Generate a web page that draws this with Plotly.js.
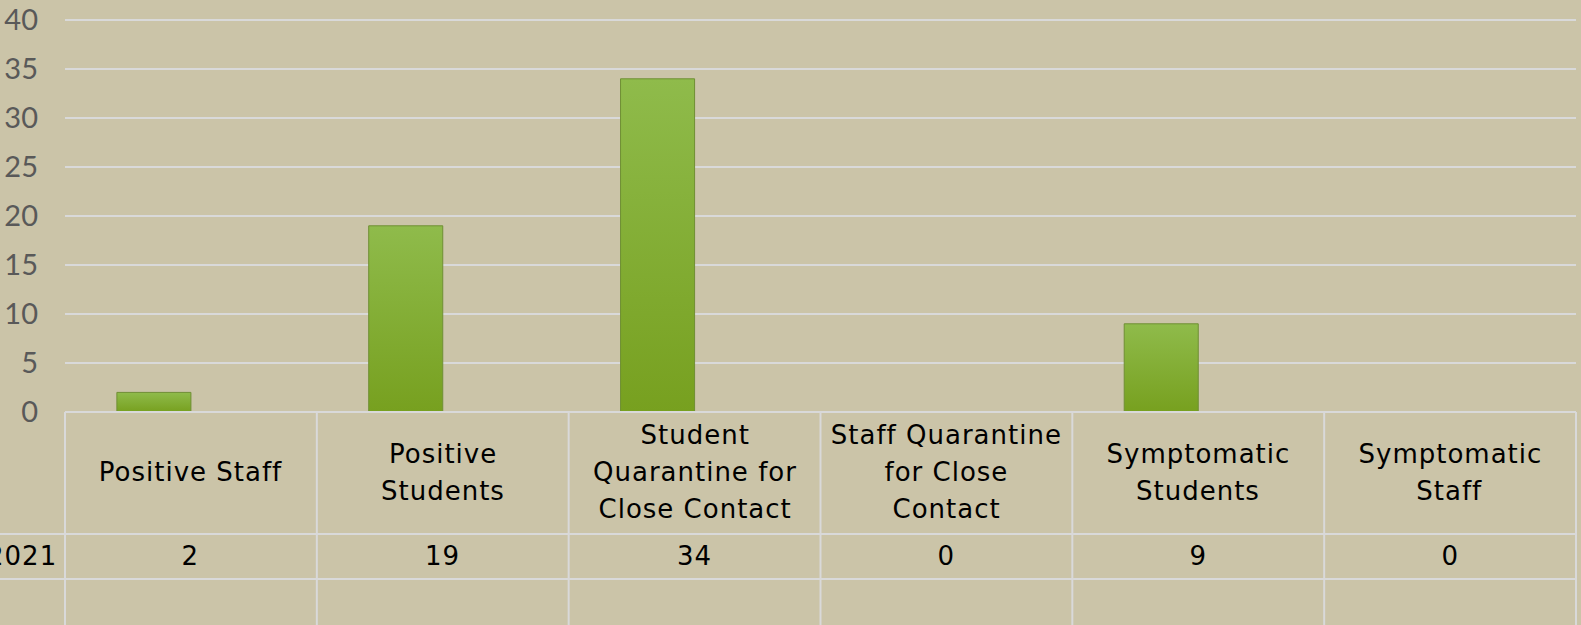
<!DOCTYPE html>
<html>
<head>
<meta charset="utf-8">
<script src="https://cdn.plot.ly/plotly-3.0.1.min.js"></script>
<style>
  html, body { margin: 0; padding: 0; background: #CBC4A8; }
  #chart { width: 1581px; height: 625px; }
  .tablecell .annotation-text { letter-spacing: 1px; }
</style>
</head>
<body>
<div id="chart"></div>
<script>
// ---- Data ----
const categories = ['Positive Staff', 'Positive Students', 'Student Quarantine for Close Contact',
                    'Staff Quarantine for Close Contact', 'Symptomatic Students', 'Symptomatic Staff'];
const tableLabels = [['Positive Staff'], ['Positive', 'Students'], ['Student', 'Quarantine for', 'Close Contact'],
                     ['Staff Quarantine', 'for Close', 'Contact'], ['Symptomatic', 'Students'], ['Symptomatic', 'Staff']];
const seriesName = '2021';
const values2021 = [2, 19, 34, 0, 9, 0];
const valuesEmpty = [null, null, null, null, null, null];
const yTicks = [0, 5, 10, 15, 20, 25, 30, 35, 40];

// ---- Geometry helpers (pixel layout of the figure) ----
const W = 1581, H = 625;
const mL = 65, mR = 5, mT = 16, mB = 213;
const plotW = W - mL - mR, plotH = H - mT - mB;
const y0px = H - mB;
const px2py = p => (y0px - p) / plotH;
const px2px = p => (p - mL) / plotW;

const gridCol = '#D9D9D9';
const tableFont = { family: '"DejaVu Sans", sans-serif', size: 26, color: '#000000' };
const lineStep = 37;

const traces = [
  {
    type: 'bar', x: categories, y: values2021, name: seriesName,
    marker: { color: '#83AD34', line: { color: '#6F8F34', width: 1 } },
    hoverinfo: 'x+y', showlegend: false
  },
  {
    type: 'bar', x: categories, y: valuesEmpty, name: '',
    marker: { color: '#5B7F2A' }, showlegend: false
  }
];

const shapes = [];
shapes.push({ type: 'line', xref: 'paper', yref: 'paper', x0: 0, x1: 1, y0: px2py(412), y1: px2py(412), line: { color: gridCol, width: 2 } });
[534, 579].forEach(p => shapes.push({ type: 'line', xref: 'paper', yref: 'paper', x0: px2px(0), x1: 1, y0: px2py(p), y1: px2py(p), line: { color: gridCol, width: 2 } }));
for (let k = 0; k <= categories.length; k++) {
  shapes.push({ type: 'line', xref: 'paper', yref: 'paper', x0: k / categories.length, x1: k / categories.length,
                y0: px2py(412), y1: px2py(H + 5), line: { color: gridCol, width: 2 } });
}

const annotations = [];
tableLabels.forEach((lines, i) => {
  const n = lines.length;
  lines.forEach((t, j) => {
    const py = 472 + (j - (n - 1) / 2) * lineStep;
    annotations.push({ xref: 'paper', yref: 'paper', x: (i + 0.5) / categories.length, y: px2py(py),
                       text: t, showarrow: false, xanchor: 'center', yanchor: 'middle', font: tableFont,
                       name: 'cell' });
  });
  annotations.push({ xref: 'paper', yref: 'paper', x: (i + 0.5) / categories.length, y: px2py(556),
                     text: String(values2021[i]), showarrow: false, xanchor: 'center', yanchor: 'middle', font: tableFont });
});
annotations.push({ xref: 'paper', yref: 'paper', x: px2px(57), y: px2py(556), text: seriesName,
                   showarrow: false, xanchor: 'right', yanchor: 'middle', font: tableFont });

const layout = {
  width: W, height: H,
  margin: { l: mL, r: mR, t: mT, b: mB, pad: 0 },
  paper_bgcolor: '#CBC4A8', plot_bgcolor: '#CBC4A8',
  barmode: 'group', bargap: 0.412, bargroupgap: 0,
  showlegend: false,
  xaxis: { type: 'category', showticklabels: false, showgrid: false, zeroline: false, showline: false, ticks: '' },
  yaxis: {
    range: [0, 40 * plotH / 392], tickvals: yTicks, ticktext: yTicks.map(String),
    showgrid: true, gridcolor: gridCol, gridwidth: 2, zeroline: false, showline: false, ticks: '',
    ticklabelstandoff: 26,
    tickfont: { family: 'Lato, "Open Sans", sans-serif', size: 29, color: '#595959' }
  },
  shapes: shapes,
  annotations: annotations
};

Plotly.newPlot('chart', traces, layout, { displayModeBar: false, staticPlot: true }).then(gd => {
  // letter spacing for table text
  gd.querySelectorAll('.annotation-text').forEach(t => { t.style.letterSpacing = '1px'; });
  // vertical gradient fill on bars
  const svg = gd.querySelector('svg.main-svg');
  const ns = 'http://www.w3.org/2000/svg';
  let defs = svg.querySelector('defs');
  if (!defs) { defs = document.createElementNS(ns, 'defs'); svg.insertBefore(defs, svg.firstChild); }
  const grad = document.createElementNS(ns, 'linearGradient');
  grad.setAttribute('id', 'barGrad');
  grad.setAttribute('x1', '0'); grad.setAttribute('y1', '0'); grad.setAttribute('x2', '0'); grad.setAttribute('y2', '1');
  [['0%', '#8FBB4B'], ['100%', '#77A01F']].forEach(([o, c]) => {
    const s = document.createElementNS(ns, 'stop');
    s.setAttribute('offset', o); s.setAttribute('stop-color', c);
    grad.appendChild(s);
  });
  defs.appendChild(grad);
  gd.querySelectorAll('.barlayer .point path').forEach(p => { p.style.fill = 'url(#barGrad)'; });
});
</script>
</body>
</html>
